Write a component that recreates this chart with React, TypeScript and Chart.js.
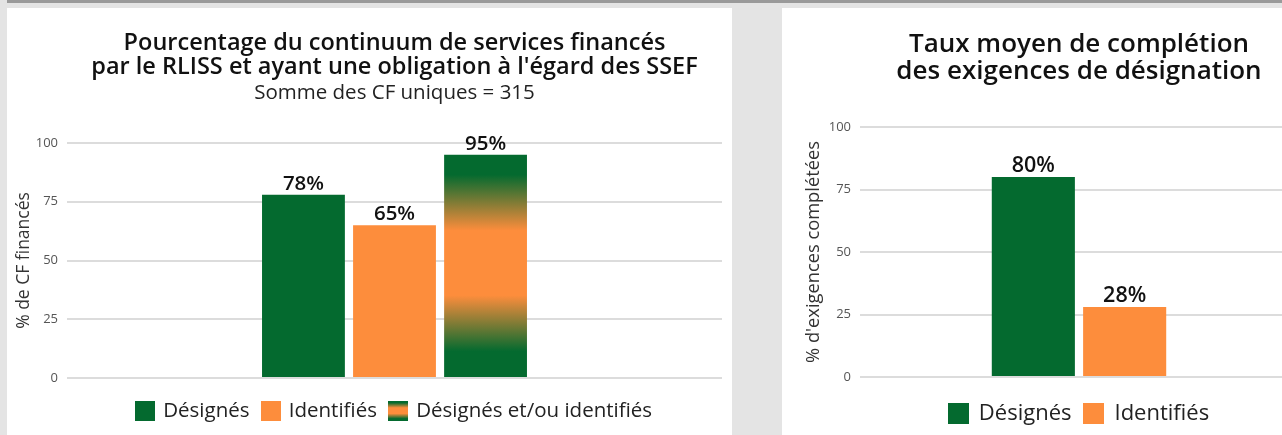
import React, { useEffect, useRef } from 'react';
import { Chart, registerables } from 'chart.js';

Chart.register(...registerables);

const FONT = '"Open Sans", "Noto Sans", sans-serif';
const GREEN = '#046a2f';
const ORANGE = '#fd8d3c';

// ---- data: left chart ----
const leftTitle = ['Pourcentage du continuum de services financés', "par le RLISS et ayant une obligation à l'égard des SSEF"];
const leftSubtitle = 'Somme des CF uniques = 315';
const leftAxisTitle = '% de CF financés';
const leftSeries = ['Désignés', 'Identifiés', 'Désignés et/ou identifiés'];
const leftValues = [78, 65, 95];

// ---- data: right chart ----
const rightTitle = ['Taux moyen de complétion', 'des exigences de désignation'];
const rightAxisTitle = "% d'exigences complétées";
const rightSeries = ['Désignés', 'Identifiés'];
const rightValues = [80, 28];

const yMin = 0;
const yMax = 100;
const yStep = 25;

function addStops(g: CanvasGradient) {
  g.addColorStop(0, GREEN);
  g.addColorStop(0.09, GREEN);
  g.addColorStop(0.34, ORANGE);
  g.addColorStop(0.63, ORANGE);
  g.addColorStop(0.88, GREEN);
  g.addColorStop(1, GREEN);
}

function makeIcon(size: number, kind: string) {
  const c = document.createElement('canvas');
  c.width = size;
  c.height = size;
  const x = c.getContext('2d')!;
  if (kind === 'grad') {
    const g = x.createLinearGradient(0, 0, 0, size);
    addStops(g);
    x.fillStyle = g;
  } else {
    x.fillStyle = kind;
  }
  x.fillRect(0, 0, size, size);
  return c;
}

const valueLabels = (fontSize: number) => ({
  id: 'valueLabels',
  afterDatasetsDraw(chart: any) {
    const ctx = chart.ctx;
    ctx.save();
    ctx.font = `600 ${fontSize}px ${FONT}`;
    ctx.fillStyle = '#111';
    ctx.textAlign = 'center';
    ctx.textBaseline = 'alphabetic';
    chart.data.datasets.forEach((ds: any, i: number) => {
      const meta = chart.getDatasetMeta(i);
      meta.data.forEach((el: any, j: number) => {
        ctx.fillText(`${ds.data[j]}%`, el.x, el.y - 5);
      });
    });
    ctx.restore();
  },
});

type PanelProps = {
  width: number;
  height: number;
  title: string[];
  subtitle?: string;
  axisTitle: string;
  series: string[];
  values: number[];
  kinds: string[];
  axisWidth: number;
  titleSize: number;
  titleLH: number;
  titlePad: { top: number; bottom: number };
  subSize?: number;
  subPad?: { top: number; bottom: number };
  legendSize: number;
  legendPad: number;
  iconSize: number;
  pointW: number;
  xGap: number;
  padBottom: number;
  tickPad: number;
  tickSize: number;
  axisTitleSize: number;
  axisTitlePad: number;
  labelSize: number;
};

function BarPanel(p: PanelProps) {
  const ref = useRef<HTMLCanvasElement>(null);
  useEffect(() => {
    const canvas = ref.current!;
    const datasets = p.series.map((label, i) => {
      const kind = p.kinds[i];
      return {
        label,
        data: [p.values[i]],
        yAxisID: 'y',
        xAxisID: 'x',
        borderWidth: 0,
        backgroundColor:
          kind === 'grad'
            ? (c: any) => {
                const chart = c.chart;
                if (!chart.chartArea) return GREEN;
                const ys = chart.scales.y;
                const v = c.dataset.data[c.dataIndex];
                const top = ys.getPixelForValue(v);
                const bottom = ys.getPixelForValue(0);
                const g = chart.ctx.createLinearGradient(0, top, 0, bottom);
                addStops(g);
                return g;
              }
            : kind,
        barPercentage: 0.91,
        categoryPercentage: 0.417,
      };
    });
    const icons = p.kinds.map((k) => makeIcon(p.iconSize, k));
    const chart = new Chart(canvas, {
      type: 'bar',
      data: { labels: [''], datasets: datasets as any },
      plugins: [valueLabels(p.labelSize)],
      options: {
        responsive: false,
        animation: false,
        layout: { padding: { left: 0, right: 0, top: 0, bottom: p.padBottom } },
        plugins: {
          tooltip: { enabled: false },
          title: {
            display: true,
            text: p.title,
            color: '#111',
            font: { family: FONT, size: p.titleSize, weight: 600, lineHeight: p.titleLH },
            padding: p.titlePad,
          },
          subtitle: {
            display: !!p.subtitle,
            text: p.subtitle || '',
            color: '#222',
            font: { family: FONT, size: p.subSize || 18, lineHeight: 1.2 },
            padding: p.subPad || { top: 0, bottom: 0 },
          },
          legend: {
            position: 'bottom',
            labels: {
              usePointStyle: true,
              pointStyleWidth: p.pointW,
              padding: p.legendPad,
              color: '#222',
              font: { family: FONT, size: p.legendSize },
              generateLabels: () =>
                p.series.map((s, i) => ({
                  text: s,
                  fillStyle: p.kinds[i] === 'grad' ? GREEN : p.kinds[i],
                  strokeStyle: 'transparent',
                  lineWidth: 0,
                  pointStyle: icons[i] as any,
                  hidden: false,
                  datasetIndex: i,
                  fontColor: '#222',
                })),
            },
          },
        },
        scales: {
          x: {
            display: true,
            grid: { display: false },
            border: { display: false },
            ticks: { display: false },
            afterFit: (s: any) => {
              s.height = p.xGap;
            },
          },
          y: {
            min: yMin,
            max: yMax,
            position: 'left',
            ticks: {
              stepSize: yStep,
              padding: p.tickPad,
              color: '#555',
              font: { family: FONT, size: p.tickSize },
            },
            grid: { color: '#dcdcdc', lineWidth: 2, drawTicks: false },
            border: { display: false },
            title: {
              display: true,
              text: p.axisTitle,
              color: '#333',
              font: { family: FONT, size: p.axisTitleSize, lineHeight: 1.2 },
              padding: { top: p.axisTitlePad, bottom: 0 },
            },
            afterFit: (s: any) => {
              s.width = p.axisWidth;
            },
          },
          yMirror: {
            type: 'linear',
            position: 'right',
            display: true,
            min: yMin,
            max: yMax,
            grid: { display: false },
            border: { display: false },
            ticks: { display: false },
            afterFit: (s: any) => {
              s.width = p.axisWidth;
            },
          },
        },
      } as any,
    });
    return () => chart.destroy();
  }, []);
  return <canvas ref={ref} width={p.width} height={p.height} style={{ display: 'block' }} />;
}

export default function App() {
  return (
    <div
      style={{
        position: 'fixed',
        left: 0,
        top: 0,
        width: 1282,
        height: 435,
        overflow: 'hidden',
        background: '#e4e4e4',
      }}
    >
      <div style={{ position: 'absolute', left: 7, top: 0, width: 1275, height: 3, background: '#9a9a9a' }} />
      <div style={{ position: 'absolute', left: 7, top: 8, width: 725, height: 427, background: '#fff' }} />
      <div style={{ position: 'absolute', left: 782, top: 8, width: 500, height: 427, background: '#fff' }} />
      <div style={{ position: 'absolute', left: 7, top: 8 }}>
        <BarPanel
          width={775}
          height={427}
          title={leftTitle}
          subtitle={leftSubtitle}
          axisTitle={leftAxisTitle}
          series={leftSeries}
          values={leftValues}
          kinds={[GREEN, ORANGE, 'grad']}
          axisWidth={60}
          titleSize={23.5}
          titleLH={1.0}
          titlePad={{ top: 24, bottom: 0 }}
          subSize={20.5}
          subPad={{ top: 2.3, bottom: 37.1 }}
          legendSize={20.5}
          legendPad={13}
          iconSize={20}
          pointW={16}
          xGap={9.75}
          padBottom={3.75}
          tickPad={9}
          tickSize={13}
          axisTitleSize={17.5}
          axisTitlePad={6.5}
          labelSize={20.5}
        />
      </div>
      <div style={{ position: 'absolute', left: 782, top: 8 }}>
        <BarPanel
          width={594}
          height={427}
          title={rightTitle}
          axisTitle={rightAxisTitle}
          series={rightSeries}
          values={rightValues}
          kinds={[GREEN, ORANGE]}
          axisWidth={78}
          titleSize={26}
          titleLH={1.04}
          titlePad={{ top: 23, bottom: 42 }}
          legendSize={22}
          legendPad={13}
          iconSize={21}
          pointW={19}
          xGap={12.5}
          padBottom={0.5}
          tickPad={9}
          tickSize={13}
          axisTitleSize={18.3}
          axisTitlePad={20.5}
          labelSize={21.5}
        />
      </div>
    </div>
  );
}
